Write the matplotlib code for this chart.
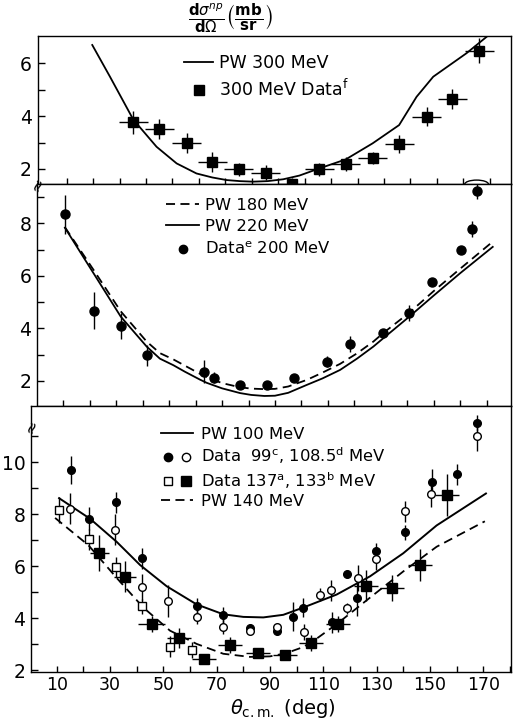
import matplotlib
matplotlib.use('Agg')
import matplotlib.pyplot as plt
from matplotlib.lines import Line2D
from matplotlib.patches import Arc
from matplotlib.legend_handler import HandlerTuple
from matplotlib.ticker import FixedLocator

# top panel: 300 MeV
th300 = [35.2, 45.0, 55.4, 65.0, 75.1, 85.2, 95.3, 105.5, 115.5, 125.7, 135.7, 146.1, 155.8, 166.0]
ds300 = [3.77, 3.51, 2.97, 2.25, 1.98, 1.86, 1.45, 1.98, 2.19, 2.42, 2.94, 3.98, 4.66, 6.47]
err300 = [0.43, 0.38, 0.38, 0.38, 0.24, 0.28, 0.2, 0.25, 0.28, 0.22, 0.35, 0.37, 0.38, 0.47]
pw300_th = [19.7, 26.4, 35.2, 44.0, 51.6, 59.1, 65.0, 70.5, 75.5, 80.5, 86.0, 91.9, 98.0,
            105.5, 115.5, 125.7, 135.7, 142.3, 148.6, 161.2, 169.4]
pw300 = [6.69, 5.49, 3.87, 2.84, 2.21, 1.83, 1.68, 1.58, 1.54, 1.52, 1.54, 1.61, 1.75,
         2.02, 2.36, 2.97, 3.66, 4.73, 5.49, 6.38, 7.05]

# middle panel: 200 MeV data, PW 180 / 220
th200 = [10.6, 21.6, 31.7, 41.5, 63.2, 67.1, 76.8, 87.1, 97.2, 109.5, 118.4, 130.9, 140.8,
         149.5, 160.3, 164.5, 166.2]
ds200 = [8.34, 4.67, 4.09, 2.97, 2.36, 2.13, 1.83, 1.83, 2.13, 2.74, 3.41, 3.82, 4.6,
         5.76, 6.98, 7.78, 9.23]
err200 = [0.74, 0.7, 0.5, 0.4, 0.43, 0.2, 0.08, 0.08, 0.1, 0.2, 0.3, 0.15, 0.3,
          0.1, 0.1, 0.3, 0.3]
pw220_th = [10.6, 21.6, 31.7, 41.5, 46.5, 51.6, 56.0, 61.7, 64.2, 70.0, 76.8, 81.0, 86.0,
            90.0, 95.0, 102.0, 108.0, 114.6, 121.0, 127.2, 131.0, 140.8, 150.0, 160.0, 172.3]
pw220 = [7.83, 6.07, 4.45, 3.31, 2.85, 2.6, 2.35, 2.05, 1.93, 1.72, 1.54, 1.47, 1.43,
         1.44, 1.55, 1.85, 2.1, 2.42, 2.85, 3.31, 3.63, 4.45, 5.25, 6.1, 7.1]
pw180_th = [10.6, 21.6, 31.7, 41.5, 46.5, 51.6, 56.0, 61.7, 66.0, 70.0, 76.8, 81.0, 86.0,
            90.0, 95.0, 102.0, 108.0, 114.6, 121.0, 127.2, 131.0, 140.8, 150.0, 160.0, 172.3]
pw180 = [7.85, 6.2, 4.65, 3.5, 3.06, 2.82, 2.58, 2.27, 2.07, 1.92, 1.76, 1.71, 1.69,
         1.7, 1.79, 2.04, 2.32, 2.65, 3.05, 3.5, 3.83, 4.6, 5.42, 6.27, 7.3]

# bottom panel: 99 / 108.5 / 137 / 133 MeV data, PW 100 / 140
th99 = [15.25, 22.25, 32.25, 42.0, 62.5, 72.5, 82.5, 92.5, 98.5, 102.5, 113.1, 118.75,
        122.75, 129.75, 140.75, 150.75, 160.25, 167.5]
ds99 = [9.70, 7.83, 8.46, 6.31, 4.47, 4.13, 3.62, 3.52, 4.06, 4.41, 3.84, 5.71,
        4.79, 6.60, 7.30, 9.25, 9.54, 11.51]
err99 = [0.55, 0.45, 0.4, 0.4, 0.3, 0.3, 0.15, 0.15, 0.55, 0.35, 0.4, 0.15,
         0.7, 0.3, 0.3, 0.5, 0.4, 0.3]
th108 = [15.0, 32.0, 42.0, 51.75, 62.75, 72.5, 82.5, 92.5, 102.75, 108.75, 112.9, 118.75,
         123.1, 129.75, 140.6, 150.4, 167.5]
ds108 = [8.21, 7.41, 5.2, 4.66, 4.06, 3.68, 3.49, 3.67, 3.46, 4.91, 5.08, 4.38,
         5.55, 6.27, 8.11, 8.78, 11.02]
err108 = [0.6, 0.6, 0.5, 0.6, 0.3, 0.3, 0.15, 0.15, 0.3, 0.25, 0.4, 0.2,
          0.5, 0.4, 0.4, 0.5, 0.6]
th137 = [10.9, 22.0, 32.1, 41.9, 52.6, 60.6]
ds137 = [8.17, 7.03, 5.97, 4.45, 2.91, 2.78]
err137 = [0.5, 0.4, 0.4, 0.3, 0.4, 0.3]
th133 = [26.0, 35.6, 45.6, 55.75, 65.25, 75.1, 85.4, 95.6, 105.25, 115.6, 125.9, 135.9,
         146.25, 156.25]
ds133 = [6.52, 5.59, 3.77, 3.24, 2.42, 2.97, 2.66, 2.59, 3.05, 3.77, 5.25, 5.17,
         6.05, 8.74]
err133 = [0.7, 0.6, 0.3, 0.4, 0.2, 0.3, 0.2, 0.15, 0.3, 0.3, 0.6, 0.5, 0.6, 0.8]
xerr133 = [3.5, 4.0, 5.0, 4.5, 4.5, 4.5, 4.5, 4.5, 4.5, 4.5, 4.5, 4.5, 4.5, 4.5]
pw100_th = [10.9, 22.5, 32.5, 41.25, 51.25, 62.5, 72.5, 80.0, 87.5, 95.0, 102.5, 115.0,
            127.5, 140.0, 152.5, 171.0]
pw100 = [8.62, 7.83, 6.94, 6.05, 5.23, 4.53, 4.15, 4.05, 4.03, 4.13, 4.41, 4.91,
         5.61, 6.5, 7.57, 8.8]
pw140_th = [9.4, 21.9, 32.5, 42.5, 52.5, 62.5, 72.5, 82.5, 90.0, 96.0, 102.5, 108.0, 115.0,
            127.5, 140.0, 152.5, 170.6]
pw140 = [7.86, 6.81, 5.55, 4.41, 3.52, 3.01, 2.63, 2.51, 2.53, 2.65, 2.89, 3.25, 3.77,
         4.79, 5.8, 6.75, 7.73]

W, H = 513, 721
fig = plt.figure(figsize=(W / 100, H / 100), dpi=100)


def box(x0, x1, ytop, ybot):
    return [x0 / W, 1 - ybot / H, (x1 - x0) / W, (ybot - ytop) / H]


ax1 = fig.add_axes(box(37.5, 511, 36, 184.3))
ax2 = fig.add_axes(box(36.7, 511, 184.3, 405.7))
ax3 = fig.add_axes(box(31, 511, 405.7, 671.7))

ax1.set_xlim(-1.0, 178.0)
ax1.set_ylim(1.42, 7.03)
ax2.set_xlim(-0.05, 179.2)
ax2.set_ylim(1.06, 9.48)
ax3.set_xlim(0.37, 180.4)
ax3.set_ylim(1.94, 12.18)

yticks = {ax1: ([2, 4, 6], [3, 5]), ax2: ([2, 4, 6, 8], [3, 5, 7, 9]),
          ax3: ([2, 4, 6, 8, 10], [3, 5, 7, 9, 11])}

for ax in (ax1, ax2, ax3):
    ax.xaxis.set_major_locator(FixedLocator(list(range(10, 180, 20))))
    ax.xaxis.set_minor_locator(FixedLocator(list(range(20, 181, 20))))
    ax.yaxis.set_major_locator(FixedLocator(yticks[ax][0]))
    ax.yaxis.set_minor_locator(FixedLocator(yticks[ax][1]))
    ax.tick_params(which='both', direction='in', top=False, right=False, color='k')
    ax.tick_params(axis='y', which='both', length=5, width=1, labelsize=13.5, pad=4)
    ax.tick_params(axis='x', which='both', length=4.5, width=1, labelsize=12.5, pad=3)
    for s in ax.spines.values():
        s.set_linewidth(1.0)
ax1.tick_params(axis='x', labelbottom=False)
ax2.tick_params(axis='x', labelbottom=False)

ekw = dict(ls='none', ecolor='k', elinewidth=1.0, capsize=0, color='k')
ckw = dict(color='k', solid_joinstyle='round', dash_joinstyle='round')

# top
ax1.plot(pw300_th, pw300, lw=1.3, **ckw)
ax1.errorbar(th300, ds300, yerr=err300, xerr=5.5, marker='s', ms=6.5, mfc='k', mec='k',
             clip_on=False, **ekw)

# middle
ax2.plot(pw180_th, pw180, lw=1.3, ls=(0, (5, 3)), **ckw)
ax2.plot(pw220_th, pw220, lw=1.3, **ckw)
ax2.errorbar(th200, ds200, yerr=err200, marker='o', ms=6.5, mfc='k', mec='k', **ekw)
# small bump in the frame over the off-scale point
ax2.add_patch(Arc((th200[-1], 9.48), 9, 0.32, theta1=0, theta2=180, color='k', lw=1.0,
                  clip_on=False))

# bottom
ax3.plot(pw100_th, pw100, lw=1.4, **ckw)
ax3.plot(pw140_th, pw140, lw=1.3, ls=(0, (5, 3)), **ckw)
ax3.errorbar(th99, ds99, yerr=err99, marker='o', ms=5.5, mfc='k', mec='k', **ekw)
ax3.errorbar(th108, ds108, yerr=err108, marker='o', ms=5.5, mfc='white', mec='k', **ekw)
ax3.errorbar(th137, ds137, yerr=err137, marker='s', ms=6, mfc='white', mec='k', **ekw)
ax3.errorbar(th133, ds133, yerr=err133, xerr=xerr133, marker='s', ms=6.5, mfc='k', mec='k',
             **ekw)

# legends
solid = Line2D([], [], color='k', lw=1.3)
dashed = Line2D([], [], color='k', lw=1.3, ls=(0, (5, 3)))
fsq = Line2D([], [], ls='none', marker='s', ms=6.5, mfc='k', mec='k')
fci = Line2D([], [], ls='none', marker='o', ms=6, mfc='k', mec='k')
oci = Line2D([], [], ls='none', marker='o', ms=6, mfc='white', mec='k')
osq = Line2D([], [], ls='none', marker='s', ms=6, mfc='white', mec='k')

lkw = dict(frameon=False, loc='upper left', borderpad=0, borderaxespad=0, numpoints=1)
ax1.legend([solid, fsq], ['PW 300 MeV', r'300 MeV Data$^{\rm f}$'],
           bbox_to_anchor=(0.309, 0.88), fontsize=12.5, handlelength=1.7,
           handletextpad=0.35, labelspacing=0.42, **lkw)
ax2.legend([dashed, solid, fci], ['PW 180 MeV', 'PW 220 MeV', r'Data$^{\rm e}$ 200 MeV'],
           bbox_to_anchor=(0.273, 0.94), fontsize=11.8, handlelength=2.0,
           handletextpad=0.35, labelspacing=0.4, **lkw)
ax3.legend([solid, (fci, oci), (osq, fsq), dashed],
           ['PW 100 MeV', r'Data  99$^{\rm c}$, 108.5$^{\rm d}$ MeV',
            r'Data 137$^{\rm a}$, 133$^{\rm b}$ MeV', 'PW 140 MeV'],
           handler_map={tuple: HandlerTuple(ndivide=None, pad=0.2)},
           bbox_to_anchor=(0.27, 0.92), fontsize=11.8, handlelength=2.0,
           handletextpad=0.45, labelspacing=0.22, **lkw)

# axis break marks on the left spine
for ax, yf in ((ax2, 1.0), (ax3, (11.36 - 1.94) / (12.18 - 1.94))):
    ax.text(0, yf, '\u2248', transform=ax.transAxes, ha='center', va='center',
            fontsize=12, rotation=70, clip_on=False)

fig.text(230 / W, 1 - 19 / H,
         r'$\frac{\mathbf{d}\sigma^{np}}{\mathbf{d}\Omega}\left(\frac{\mathbf{mb}}{\mathbf{sr}}\right)$',
         ha='center', va='center', fontsize=15.5)
fig.text(283 / W, 1 - 709 / H, r'$\theta_{\rm c.m.}$ (deg)', ha='center', va='center',
         fontsize=14)

fig.savefig('out.png', dpi=100, facecolor='white')
